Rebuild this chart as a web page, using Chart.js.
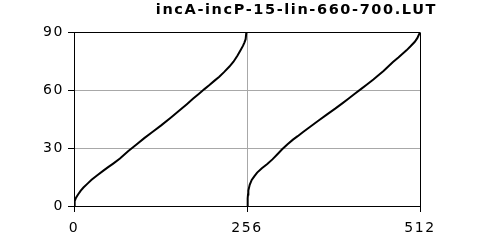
<!DOCTYPE html>
<html>
<head>
<meta charset="utf-8">
<script src="https://cdn.jsdelivr.net/npm/chart.js@4.4.1/dist/chart.umd.min.js"></script>
<style>
  html, body { margin: 0; padding: 0; background: #fff; }
  #wrap { width: 480px; height: 241px; }
</style>
</head>
<body>
<div id="wrap"><canvas id="myChart" width="480" height="241"></canvas></div>
<script>
// LUT curve, two ramps (0..255 and 256..512)
const rampAx = [0, 1, 3, 6, 10, 14, 20, 26, 34, 43, 50, 58, 68, 80, 92, 104, 116, 129, 144, 155, 167, 176, 185, 193, 200, 208, 215, 222, 230, 236, 242, 246, 250, 252, 254, 255];
const rampAy = [0, 2.5, 4.3, 6, 8, 9.6, 11.6, 13.6, 15.8, 18.2, 20, 22, 24.6, 28.4, 31.8, 35.2, 38.4, 41.8, 46, 49.2, 52.8, 55.6, 58.2, 60.6, 62.6, 65, 67, 69.4, 72.3, 74.8, 78, 80.5, 83, 84.6, 86.5, 90];
const rampBx = [256, 257, 257.5, 258, 260, 263, 267, 271, 278, 286, 294, 301, 308, 316, 324, 331, 339, 350, 362, 374, 387, 397, 406, 415, 425, 434, 443, 450, 458, 465, 472, 480, 487, 492, 498, 504, 508, 510, 512];
const rampBy = [0, 4, 6, 8, 11, 13.5, 15.5, 17.3, 19.6, 21.8, 24.3, 26.8, 29.4, 32, 34.4, 36.2, 38.4, 41.2, 44.3, 47.4, 50.6, 53.2, 55.6, 58.1, 60.7, 63.1, 65.6, 67.7, 70, 72.3, 74.6, 77, 79.2, 80.7, 82.8, 85, 87, 88.5, 90];
const xTicks = [0, 256, 512];
const yTicks = [0, 30, 60, 90];
const chartTitle = 'incA-incP-15-lin-660-700.LUT';

const toPoints = (xs, ys) => xs.map((x, i) => ({ x: x, y: ys[i] }));

// wide glyph spacing like the original bitmap font
const spacing = {
    id: 'spacing',
    beforeLayout(chart) { chart.ctx.letterSpacing = '1.6px'; },
    beforeDraw(chart) { chart.ctx.letterSpacing = '1.6px'; }
};

const gridColor = (edges) => (ctx) => edges.includes(ctx.tick.value) ? '#000' : '#a8a8a8';

const ctx = document.getElementById('myChart').getContext('2d');
const newChart = new Chart(ctx, {
    type: 'line',
    data: {
        datasets: [
            { data: toPoints(rampAx, rampAy) },
            { data: toPoints(rampBx, rampBy) }
        ]
    },
    options: {
        responsive: false,
        animation: false,
        events: [],
        layout: { padding: { left: 0, right: 43, top: 0, bottom: 0 } },
        elements: {
            line: { borderColor: '#000', borderWidth: 2, tension: 0 },
            point: { radius: 0 }
        },
        plugins: {
            legend: { display: false },
            tooltip: { enabled: false },
            title: {
                display: true,
                text: chartTitle,
                align: 'end',
                color: '#000',
                font: { family: 'DejaVu Sans', size: 14.5, weight: 'bold' },
                padding: { top: 2, bottom: 13 }
            }
        },
        scales: {
            x: {
                type: 'linear',
                min: 0,
                max: 512,
                afterBuildTicks: (scale) => { scale.ticks = xTicks.map(v => ({ value: v })); },
                afterFit: (scale) => { scale.height = 35; scale.paddingRight = 60; },
                ticks: {
                    color: '#000',
                    padding: 8,
                    maxRotation: 0,
                    autoSkip: false,
                    font: { family: 'DejaVu Sans', size: 14 }
                },
                grid: {
                    color: gridColor([0, 512]),
                    tickColor: '#000',
                    tickLength: 6,
                    lineWidth: 1
                },
                border: { color: '#000', width: 1 }
            },
            y: {
                min: 0,
                max: 90,
                afterBuildTicks: (scale) => { scale.ticks = yTicks.map(v => ({ value: v })); },
                afterFit: (scale) => { scale.width = 74; },
                ticks: {
                    color: '#000',
                    padding: 4,
                    font: { family: 'DejaVu Sans', size: 14 }
                },
                grid: {
                    color: gridColor([0, 90]),
                    tickColor: '#000',
                    tickLength: 6,
                    lineWidth: 1
                },
                border: { color: '#000', width: 1 }
            }
        }
    },
    plugins: [spacing]
});
</script>
</body>
</html>
